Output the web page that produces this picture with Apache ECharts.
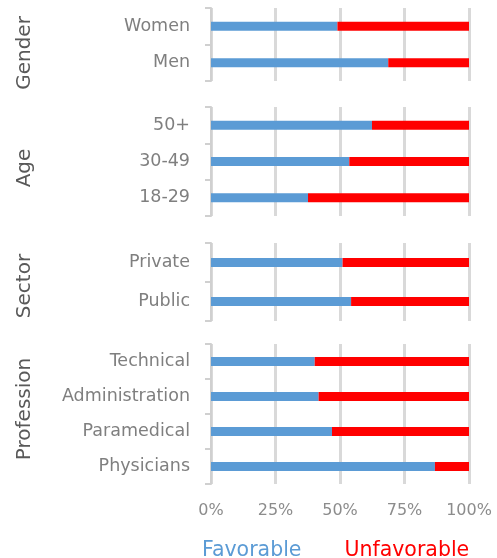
<!DOCTYPE html>
<html><head><meta charset="utf-8">
<script src="https://cdn.jsdelivr.net/npm/echarts@6/dist/echarts.min.js"></script>
<style>html,body{margin:0;padding:0;background:#fff}#c{width:497px;height:558px}</style>
</head><body><div id="c"></div>
<script>
const groups = ['Gender', 'Age', 'Sector', 'Profession'];
const categories = [
  ['Women', 'Men'],
  ['50+', '30-49', '18-29'],
  ['Private', 'Public'],
  ['Technical', 'Administration', 'Paramedical', 'Physicians']
];
const favorable = [
  [49, 68.7],
  [62.4, 53.6, 37.6],
  [51, 54.3],
  [40.2, 41.7, 46.9, 86.8]
];
const unfavorable = [
  [51, 31.3],
  [37.6, 46.4, 62.4],
  [49, 45.7],
  [59.8, 58.3, 53.1, 13.2]
];
const xTicks = [0, 25, 50, 75, 100];

const FONT = '"DejaVu Sans"';
const gridTop = [8, 107, 243, 344];
const gridH = [73, 109, 78, 140];
const labelCenterY = [53, 168, 286, 409];

const grids = [], xAxes = [], yAxes = [], series = [], graphics = [];
groups.forEach((g, i) => {
  grids.push({left: 211, right: 28, top: gridTop[i], height: gridH[i]});
  const last = i === groups.length - 1;
  xAxes.push({
    type: 'value', gridIndex: i, min: xTicks[0], max: xTicks[xTicks.length - 1], interval: 25,
    axisLine: {show: false}, axisTick: {show: false},
    axisLabel: {show: last, formatter: v => v + '%', color: '#8c8c8c', fontSize: 16, fontFamily: FONT, margin: 19},
    splitLine: {show: true, lineStyle: {color: '#d9d9d9', width: 3}}
  });
  yAxes.push({
    type: 'category', gridIndex: i, data: categories[i], inverse: true,
    axisLine: {show: true, lineStyle: {color: '#d0d0d0', width: 2}},
    axisTick: {show: true, length: 6, lineStyle: {color: '#d0d0d0', width: 2}},
    axisLabel: {color: '#7f7f7f', fontSize: 17.5, fontFamily: FONT, margin: 21}
  });
  series.push({
    name: 'Favorable', type: 'bar', stack: 's' + i, xAxisIndex: i, yAxisIndex: i,
    data: favorable[i], barWidth: 9, itemStyle: {color: '#5b9bd5'}, silent: true
  });
  series.push({
    name: 'Unfavorable', type: 'bar', stack: 's' + i, xAxisIndex: i, yAxisIndex: i,
    data: unfavorable[i], barWidth: 9, itemStyle: {color: '#ff0000'}, silent: true
  });
  graphics.push({
    type: 'text', x: 25, y: labelCenterY[i], rotation: Math.PI / 2,
    style: {text: g, fill: '#595959', font: '20px ' + FONT, textAlign: 'center', textVerticalAlign: 'middle'}
  });
});

const chart = echarts.init(document.getElementById('c'));
chart.setOption({
  animation: false,
  grid: grids, xAxis: xAxes, yAxis: yAxes, series: series,
  graphic: graphics,
  legend: {
    left: 192, top: 535, icon: 'rect', itemWidth: 0, itemHeight: 0, itemGap: 38,
    selectedMode: false,
    data: [
      {name: 'Favorable', textStyle: {color: '#5b9bd5'}},
      {name: 'Unfavorable', textStyle: {color: '#ff0000'}}
    ],
    textStyle: {fontSize: 20.5, fontFamily: FONT, padding: 0}
  }
});
</script></body></html>
